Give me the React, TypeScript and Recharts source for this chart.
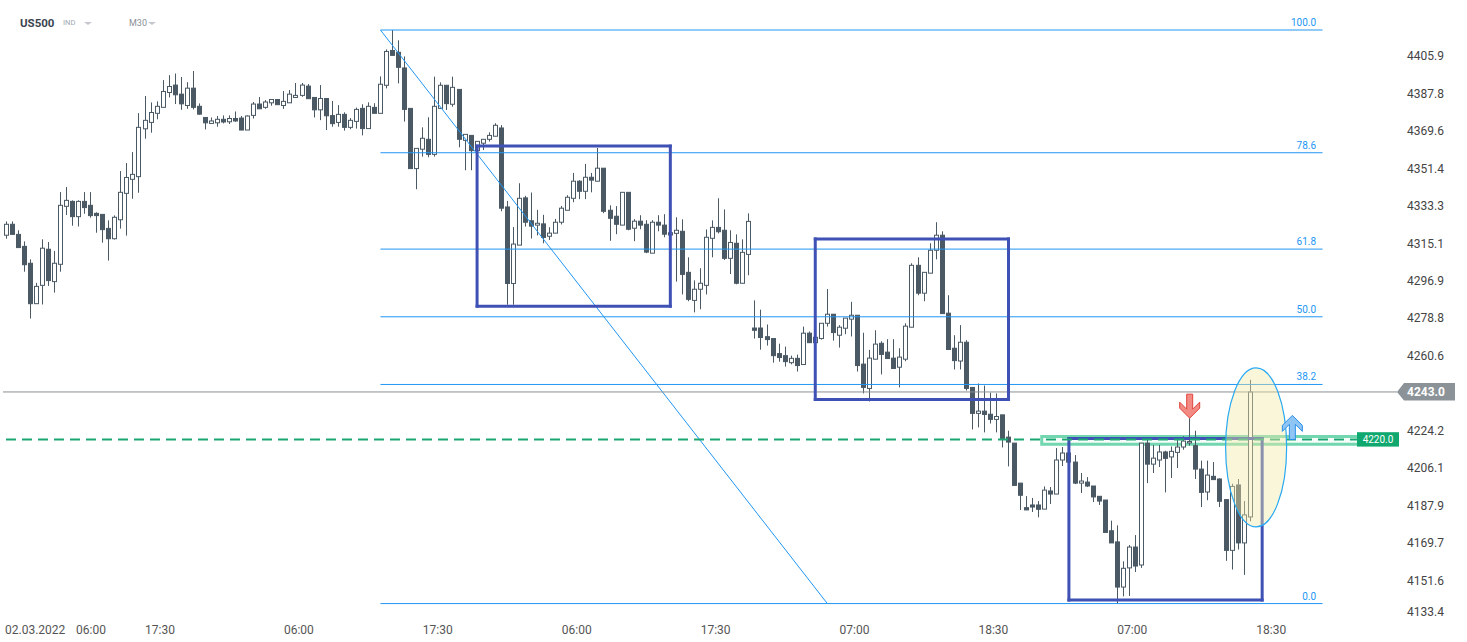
import React from "react";
import {
  ComposedChart,
  Bar,
  XAxis,
  YAxis,
  ReferenceLine,
  ReferenceArea,
  ReferenceDot,
} from "recharts";

// US500, M30 candles
const opens = [
  4319.0, 4324.3, 4319.4, 4313.6, 4305.4, 4285.8, 4294.7, 4312.2, 4296.5, 4304.9,
  4333.0, 4335.4, 4328.0, 4335.4, 4333.5, 4329.6, 4329.1, 4322.3, 4317.3, 4326.5,
  4339.3, 4346.1, 4347.4, 4370.6, 4373.7, 4378.1, 4381.0, 4388.2, 4391.8, 4387.4,
  4381.9, 4390.3, 4381.5, 4376.1, 4373.2, 4373.5, 4375.2, 4374.0, 4375.6, 4375.8,
  4370.0, 4377.1, 4382.6, 4381.0, 4383.2, 4384.8, 4381.9, 4383.2, 4385.8, 4386.8,
  4391.3, 4385.8, 4379.8, 4385.3, 4377.0, 4373.7, 4377.6, 4371.3, 4374.2, 4380.5,
  4370.7, 4381.0, 4378.1, 4391.7, 4408.6, 4407.7, 4400.1, 4380.5, 4351.3, 4360.7,
  4365.5, 4358.2, 4380.5, 4391.7, 4382.5, 4389.7, 4365.0, 4367.4, 4360.0, 4363.6,
  4365.5, 4367.0, 4371.0, 4332.7, 4295.6, 4314.2, 4337.1, 4326.0, 4323.9, 4324.5,
  4318.5, 4320.0, 4325.3, 4331.1, 4336.9, 4345.2, 4340.3, 4347.1, 4345.2, 4351.5,
  4331.1, 4328.2, 4323.9, 4339.8, 4322.4, 4325.8, 4324.3, 4310.3, 4325.3, 4323.9,
  4319.1, 4319.9, 4320.9, 4301.0, 4287.4, 4292.8, 4294.7, 4317.5, 4322.8, 4321.4,
  4307.8, 4315.1, 4295.7, 4309.7, 4274.0, 4274.0, 4269.8, 4268.9, 4261.6, 4260.6,
  4257.2, 4259.3, 4256.3, 4271.5, 4266.9, 4268.9, 4276.3, 4280.7, 4270.5, 4273.9,
  4278.3, 4280.2, 4256.5, 4244.7, 4258.9, 4266.6, 4262.3, 4259.4, 4255.0, 4258.9,
  4274.4, 4304.4, 4290.9, 4300.6, 4311.7, 4319.0, 4281.2, 4264.2, 4258.0, 4267.1,
  4245.2, 4232.6, 4233.7, 4232.2, 4229.7, 4231.9, 4221.1, 4218.2, 4198.8, 4186.9,
  4188.2, 4188.2, 4186.2, 4195.0, 4193.5, 4210.0, 4213.4, 4209.0, 4198.8, 4199.3,
  4197.4, 4192.4, 4190.6, 4175.7, 4170.3, 4148.4, 4157.7, 4167.8, 4159.1, 4218.2,
  4208.0, 4210.0, 4213.9, 4211.5, 4213.7, 4216.3, 4218.3, 4217.0, 4205.6, 4194.5,
  4202.1, 4200.8, 4190.8, 4166.2, 4197.9, 4169.8, 4182.4,
];
const highs = [
  4325.7, 4325.7, 4321.4, 4316.0, 4307.3, 4295.9, 4317.0, 4315.7, 4311.4, 4339.9,
  4342.4, 4335.9, 4335.9, 4339.9, 4339.9, 4330.1, 4329.1, 4326.2, 4328.6, 4350.1,
  4354.0, 4359.3, 4378.2, 4386.5, 4383.4, 4383.9, 4394.2, 4396.6, 4397.4, 4395.7,
  4393.2, 4398.6, 4382.9, 4376.1, 4376.1, 4376.8, 4377.1, 4377.1, 4379.0, 4376.8,
  4377.1, 4383.6, 4386.0, 4384.5, 4384.8, 4384.8, 4388.9, 4389.4, 4392.8, 4392.8,
  4392.3, 4385.8, 4391.8, 4385.3, 4384.1, 4382.1, 4378.6, 4375.8, 4380.9, 4382.5,
  4383.4, 4383.0, 4396.0, 4409.1, 4418.5, 4413.5, 4405.7, 4380.5, 4361.1, 4371.3,
  4376.2, 4395.9, 4393.1, 4391.7, 4395.9, 4389.7, 4367.9, 4367.4, 4364.5, 4365.5,
  4368.9, 4373.3, 4372.4, 4335.6, 4323.0, 4344.2, 4338.1, 4339.7, 4331.3, 4328.9,
  4322.9, 4326.9, 4333.2, 4338.4, 4349.2, 4345.7, 4353.6, 4349.2, 4361.3, 4351.5,
  4333.5, 4333.1, 4339.8, 4339.8, 4326.8, 4328.7, 4326.3, 4326.3, 4328.7, 4329.2,
  4321.0, 4327.7, 4326.7, 4308.3, 4297.1, 4303.0, 4321.8, 4326.2, 4336.9, 4331.5,
  4321.4, 4319.4, 4317.0, 4329.6, 4287.4, 4282.9, 4275.7, 4268.9, 4266.4, 4265.0,
  4260.6, 4261.1, 4274.7, 4272.3, 4269.5, 4276.3, 4292.9, 4280.7, 4275.4, 4278.8,
  4286.7, 4280.2, 4271.7, 4263.4, 4272.9, 4267.6, 4268.6, 4268.6, 4264.2, 4276.3,
  4305.4, 4308.3, 4301.0, 4315.1, 4325.3, 4320.9, 4289.9, 4270.5, 4275.4, 4268.1,
  4245.2, 4247.1, 4246.1, 4242.7, 4242.3, 4231.9, 4224.2, 4218.2, 4198.8, 4192.5,
  4191.6, 4190.1, 4197.2, 4196.9, 4215.8, 4216.3, 4215.8, 4212.4, 4203.7, 4201.7,
  4197.4, 4192.4, 4190.6, 4180.6, 4178.3, 4160.9, 4168.8, 4173.6, 4218.2, 4220.6,
  4217.3, 4217.3, 4214.5, 4216.6, 4219.8, 4221.5, 4230.3, 4224.2, 4209.7, 4209.7,
  4209.0, 4201.1, 4190.8, 4198.5, 4200.8, 4190.1, 4248.9,
];
const lows = [
  4317.3, 4319.4, 4313.0, 4301.3, 4278.6, 4285.8, 4285.4, 4294.4, 4291.2, 4301.3,
  4328.8, 4323.6, 4323.2, 4329.4, 4327.5, 4320.2, 4315.4, 4306.7, 4316.9, 4322.2,
  4318.8, 4336.7, 4339.6, 4365.8, 4368.7, 4375.2, 4381.0, 4385.8, 4382.6, 4379.8,
  4380.3, 4380.0, 4377.4, 4370.3, 4373.2, 4371.6, 4373.2, 4372.9, 4374.0, 4370.0,
  4370.0, 4375.6, 4380.3, 4380.3, 4381.8, 4382.3, 4380.3, 4383.2, 4385.8, 4386.1,
  4385.2, 4376.1, 4374.8, 4370.0, 4371.6, 4371.6, 4369.7, 4370.4, 4370.7, 4367.4,
  4370.7, 4378.1, 4378.1, 4390.2, 4406.2, 4392.6, 4374.1, 4351.3, 4341.3, 4357.1,
  4356.8, 4357.1, 4380.5, 4379.7, 4381.3, 4361.6, 4350.5, 4350.5, 4355.0, 4360.3,
  4364.4, 4367.0, 4330.6, 4285.3, 4285.3, 4314.2, 4323.2, 4317.4, 4318.9, 4315.1,
  4316.7, 4320.0, 4324.2, 4331.1, 4335.0, 4336.5, 4336.5, 4339.8, 4345.2, 4329.7,
  4316.3, 4319.5, 4323.9, 4321.4, 4316.1, 4321.9, 4310.3, 4310.3, 4320.9, 4318.0,
  4318.5, 4296.5, 4290.3, 4287.0, 4281.6, 4283.1, 4290.3, 4308.3, 4319.9, 4307.0,
  4300.2, 4295.2, 4295.7, 4299.6, 4268.9, 4263.5, 4265.5, 4257.2, 4257.7, 4255.3,
  4256.4, 4252.9, 4256.3, 4266.9, 4266.9, 4268.4, 4274.7, 4267.9, 4264.5, 4271.0,
  4269.9, 4252.9, 4242.3, 4238.4, 4258.9, 4251.5, 4259.2, 4254.4, 4245.2, 4257.9,
  4274.4, 4289.9, 4287.0, 4300.6, 4307.3, 4281.0, 4263.6, 4253.9, 4253.9, 4243.7,
  4224.8, 4225.8, 4223.4, 4227.7, 4223.4, 4216.1, 4206.9, 4197.7, 4185.8, 4185.8,
  4184.8, 4182.2, 4186.2, 4188.7, 4193.5, 4207.1, 4209.0, 4198.3, 4194.0, 4196.9,
  4189.6, 4188.2, 4174.9, 4169.8, 4140.4, 4143.9, 4144.1, 4155.7, 4157.7, 4198.8,
  4203.7, 4206.6, 4194.3, 4201.3, 4206.1, 4215.0, 4217.0, 4200.8, 4187.2, 4190.5,
  4200.5, 4187.2, 4161.1, 4156.9, 4166.6, 4154.3, 4180.3,
];
const closes = [
  4324.3, 4319.4, 4313.0, 4304.7, 4285.8, 4294.2, 4312.7, 4297.0, 4305.4, 4333.5,
  4335.9, 4328.0, 4335.4, 4332.4, 4328.5, 4328.5, 4321.7, 4317.3, 4327.7, 4339.8,
  4347.0, 4348.5, 4371.3, 4374.7, 4378.5, 4381.5, 4388.7, 4391.1, 4387.1, 4382.7,
  4390.3, 4381.0, 4377.7, 4373.5, 4374.4, 4375.2, 4373.9, 4375.6, 4374.4, 4370.0,
  4376.8, 4382.6, 4380.3, 4383.6, 4384.8, 4382.3, 4383.9, 4387.4, 4386.8, 4391.8,
  4385.2, 4379.8, 4385.3, 4376.9, 4373.1, 4377.6, 4371.3, 4374.7, 4380.0, 4370.7,
  4381.5, 4378.1, 4392.2, 4408.1, 4406.2, 4400.4, 4380.0, 4351.3, 4361.1, 4366.0,
  4358.2, 4381.5, 4391.7, 4382.8, 4390.7, 4365.5, 4367.9, 4360.0, 4364.5, 4365.5,
  4367.4, 4372.3, 4332.1, 4295.6, 4314.7, 4336.9, 4325.3, 4323.4, 4324.8, 4317.9,
  4320.0, 4325.3, 4332.1, 4337.4, 4345.2, 4340.3, 4347.1, 4345.7, 4351.5, 4330.6,
  4327.2, 4324.3, 4339.8, 4321.9, 4325.8, 4323.9, 4310.8, 4325.3, 4323.9, 4319.5,
  4320.2, 4321.4, 4300.0, 4287.9, 4292.8, 4295.7, 4318.0, 4322.8, 4320.7, 4307.8,
  4315.5, 4295.7, 4310.7, 4325.7, 4272.9, 4269.4, 4268.4, 4260.6, 4259.7, 4257.7,
  4259.3, 4255.8, 4271.5, 4266.9, 4269.5, 4276.3, 4280.7, 4271.8, 4274.4, 4278.8,
  4280.2, 4255.8, 4245.2, 4259.4, 4266.2, 4261.2, 4259.2, 4254.4, 4259.9, 4274.9,
  4304.4, 4290.9, 4301.0, 4311.7, 4319.0, 4281.0, 4263.6, 4258.2, 4267.1, 4244.7,
  4232.6, 4233.7, 4232.1, 4229.7, 4231.1, 4220.5, 4218.7, 4197.7, 4192.9, 4185.8,
  4187.2, 4186.1, 4195.4, 4193.5, 4210.0, 4213.4, 4209.0, 4198.8, 4199.8, 4197.4,
  4192.1, 4190.1, 4174.9, 4169.8, 4148.4, 4157.5, 4167.8, 4158.6, 4218.2, 4208.0,
  4210.9, 4213.9, 4210.8, 4214.2, 4216.3, 4219.2, 4219.0, 4205.6, 4194.3, 4202.7,
  4200.5, 4190.0, 4166.2, 4197.2, 4169.8, 4183.4, 4243.0,
];

const tickIdx = [2, 25, 48, 71, 94, 117, 140, 163, 186, 209];
const tickLabels = ["02.03.2022 06:00", "17:30", "06:00", "17:30", "06:00", "17:30", "07:00", "18:30", "07:00", "18:30"];
const priceTicks = [
  4405.9, 4387.8, 4369.6, 4351.4, 4333.3, 4315.1, 4296.9, 4278.8, 4260.6,
  4224.2, 4206.1, 4187.9, 4169.7, 4151.6, 4133.4,
];

const fibHigh = 4418.5;
const fibLow = 4140.4;
const fibLevels = [0, 38.2, 50, 61.8, 78.6, 100];
const fibStart = 62;
const fibEnd = 218;
const trendEnd = 136;

const boxes = [
  { x1: 78, x2: 110, top: 4362.2, bottom: 4284.6 },
  { x1: 134, x2: 166, top: 4317.2, bottom: 4239.4 },
  { x1: 176, x2: 208, top: 4220.4, bottom: 4142.1 },
];

const lastPrice = 4243.0;
const support = 4220.0;

const SLOTS = 230;
const CANDLE = "#4a5964";
const FIB = "#2196f3";
const BOX = "#3f51b5";

const rows = Array.from({ length: SLOTS }, (_, i) =>
  i < opens.length
    ? { i, o: opens[i], h: highs[i], l: lows[i], c: closes[i] }
    : { i }
);

const Candle = (props: any) => {
  const { x, y, width, height, payload } = props;
  if (!payload || payload.h == null) return null;
  const top = Math.min(y, y + height);
  const bot = Math.max(y, y + height);
  const span = payload.h - payload.l || 1;
  const toY = (v: number) => top + ((payload.h - v) / span) * (bot - top);
  const cx = Math.round(x + width / 2 - 0.5) + 0.5;
  const up = payload.c >= payload.o;
  const yO = toY(payload.o);
  const yC = toY(payload.c);
  const bTop = Math.min(yO, yC);
  const bH = Math.max(Math.abs(yC - yO), 1);
  return (
    <g>
      <line x1={cx} x2={cx} y1={top} y2={bot} stroke={CANDLE} strokeWidth={1} />
      <rect x={cx - 2} y={bTop} width={4} height={bH} fill={up ? "#fff" : CANDLE} stroke={CANDLE} strokeWidth={1} />
    </g>
  );
};

const XTick = (p: any) => {
  const idx = tickIdx.indexOf(p.payload.value);
  if (idx < 0) return null;
  const y = p.y + 16;
  const style = { fontSize: 12, fill: "#555", fontFamily: "Roboto, sans-serif" };
  if (idx === 0) {
    const [d, t] = tickLabels[0].split(" ");
    return (
      <text y={y} {...style}>
        <tspan x={5}>{d}</tspan>
        <tspan x={76}>{t}</tspan>
      </text>
    );
  }
  return (
    <text x={p.x + 3} y={y} textAnchor="middle" {...style}>
      {tickLabels[idx]}
    </text>
  );
};

const YTick = (p: any) => (
  <text x={p.x} y={Math.min(p.y, 612) + 4.3} textAnchor="start" fontSize={12} fill="#444" fontFamily="Roboto, sans-serif">
    {Number(p.payload.value).toFixed(1)}
  </text>
);

const fibLabel = (lvl: number) => (p: any) => {
  const vb = p.viewBox;
  return (
    <text x={vb.x + vb.width - 6.5} y={vb.y - 4} textAnchor="end" fontSize={10} fill={FIB} fontFamily="Roboto, sans-serif">
      {lvl.toFixed(1)}
    </text>
  );
};

const PriceTag = (p: any) => {
  const vb = p.viewBox;
  const x2 = vb.x + vb.width;
  const y = vb.y;
  return (
    <g>
      <line x1={x2} x2={x2 + 5} y1={y} y2={y} stroke="#8a8f93" />
      <polygon
        points={`${x2 + 5},${y} ${x2 + 12},${y - 9} ${x2 + 63},${y - 9} ${x2 + 63},${y + 8.5} ${x2 + 12},${y + 8.5}`}
        fill="#8c9398"
      />
      <text x={x2 + 15} y={y + 4.5} fontSize={12} fontWeight={700} fill="#fff" fontFamily="Roboto, sans-serif">
        {lastPrice.toFixed(1)}
      </text>
    </g>
  );
};

const SupportTag = (p: any) => {
  const vb = p.viewBox;
  const x2 = vb.x + vb.width;
  const y = vb.y;
  return (
    <g>
      <rect x={x2 - 35} y={y - 7.2} width={42} height={14.4} fill="#10a86f" />
      <text x={x2 - 14} y={y + 3.6} textAnchor="middle" fontSize={10} fill="#fff" fontFamily="Roboto, sans-serif">
        {support.toFixed(1)}
      </text>
    </g>
  );
};

const Ellipse = (p: any) => (
  <ellipse cx={p.cx} cy={p.cy} rx={30.5} ry={79.5} fill="#f3eaa8" fillOpacity={0.42} stroke="#29a9f2" strokeWidth={1.2} />
);

const pts = (cx: number, cy: number, list: number[][]) =>
  list.map(([dx, dy]) => `${cx + dx},${cy + dy}`).join(" ");

const DownArrow = (p: any) => (
  <polygon
    points={pts(p.cx, p.cy, [[-3, -24], [3, -24], [3, -9], [10, -16], [10, -10], [0, 0], [-10, -10], [-10, -16], [-3, -9]])}
    fill="#f28b84"
    stroke="#e0443c"
    strokeWidth={1}
  />
);

const UpArrow = (p: any) => (
  <polygon
    points={pts(p.cx, p.cy, [[-3, 0], [3, 0], [3, -15], [10, -8], [10, -14], [0, -24], [-10, -14], [-10, -8], [-3, -15]])}
    fill="#8ec5f5"
    stroke="#2a8fe8"
    strokeWidth={1}
  />
);

const caret = (color: string) => (
  <span
    style={{
      display: "inline-block",
      width: 0,
      height: 0,
      borderLeft: "4px solid transparent",
      borderRight: "4px solid transparent",
      borderTop: `3px solid ${color}`,
      verticalAlign: "middle",
    }}
  />
);

export default function App() {
  return (
    <div style={{ position: "absolute", left: 0, top: 0, width: 1467, height: 642, background: "#fff" }}>
      <ComposedChart width={1467} height={642} data={rows} margin={{ top: 0, right: 0, bottom: 0, left: 3 }}>
        <XAxis
          dataKey="i"
          type="category"
          ticks={tickIdx}
          interval={0}
          height={24}
          axisLine={false}
          tickLine={false}
          tickSize={0}
          tickMargin={0}
          tick={<XTick />}
        />
        <YAxis
          orientation="right"
          type="number"
          width={75}
          domain={[4133.4, 4433.05]}
          allowDataOverflow
          ticks={priceTicks}
          interval={0}
          axisLine={false}
          tickLine={false}
          tickSize={0}
          tickMargin={15}
          tick={<YTick />}
        />
        <Bar
          dataKey={(d: any) => (d.h == null ? null : [d.l, d.h])}
          shape={Candle}
          isAnimationActive={false}
        />

        {fibLevels.map((lvl) => {
          const v = fibLow + (lvl / 100) * (fibHigh - fibLow);
          return (
            <ReferenceLine
              key={`fib-${lvl}`}
              segment={[{ x: fibStart, y: v }, { x: fibEnd, y: v }]}
              stroke={FIB}
              strokeWidth={1}
              label={fibLabel(lvl)}
            />
          );
        })}
        <ReferenceLine
          segment={[{ x: fibStart, y: fibHigh }, { x: trendEnd, y: fibLow }]}
          stroke={FIB}
          strokeWidth={1}
        />

        <ReferenceLine y={lastPrice} stroke="#8a8f93" strokeWidth={1} label={(p: any) => <PriceTag {...p} />} />

        <ReferenceArea x1={172} x2={224} y1={4217.6} y2={4221.4} stroke="#72d6b0" strokeWidth={3} fill="#f0faf5" fillOpacity={0.6} />

        {boxes.map((b, k) => (
          <React.Fragment key={`box-${k}`}>
            <ReferenceLine segment={[{ x: b.x1, y: b.top }, { x: b.x2, y: b.top }]} stroke={BOX} strokeWidth={3} strokeLinecap="square" />
            <ReferenceLine segment={[{ x: b.x1, y: b.bottom }, { x: b.x2, y: b.bottom }]} stroke={BOX} strokeWidth={3} strokeLinecap="square" />
            <ReferenceLine segment={[{ x: b.x1, y: b.top }, { x: b.x1, y: b.bottom }]} stroke={BOX} strokeWidth={3} strokeLinecap="square" />
            <ReferenceLine segment={[{ x: b.x2, y: b.top }, { x: b.x2, y: b.bottom }]} stroke={BOX} strokeWidth={3} strokeLinecap="square" />
          </React.Fragment>
        ))}

        <ReferenceLine
          y={support}
          stroke="#1aa772"
          strokeWidth={2}
          strokeDasharray="10 6"
          label={(p: any) => <SupportTag {...p} />}
        />

        <ReferenceDot x={207} y={4216.1} shape={Ellipse} />
        <ReferenceDot x={196} y={highs[196]} shape={DownArrow} />
        <ReferenceDot x={213} y={support} shape={UpArrow} />
      </ComposedChart>

      <div
        style={{
          position: "absolute",
          left: 20,
          top: 15,
          fontFamily: "Roboto, sans-serif",
          fontSize: 11.5,
          fontWeight: 700,
          color: "#3a4450",
          lineHeight: "16px",
        }}
      >
        US500
      </div>
      <div
        style={{
          position: "absolute",
          left: 63,
          top: 17,
          fontFamily: "Roboto, sans-serif",
          fontSize: 7.5,
          color: "#a0a8b0",
          lineHeight: "12px",
          display: "flex",
          alignItems: "center",
          gap: 9,
        }}
      >
        <span>IND</span>
        {caret("#c4c8cc")}
      </div>
      <div
        style={{
          position: "absolute",
          left: 129,
          top: 16,
          fontFamily: "Roboto, sans-serif",
          fontSize: 9,
          color: "#8a9096",
          lineHeight: "14px",
          display: "flex",
          alignItems: "center",
          gap: 1,
        }}
      >
        <span>M30</span>
        {caret("#c4c8cc")}
      </div>
    </div>
  );
}
